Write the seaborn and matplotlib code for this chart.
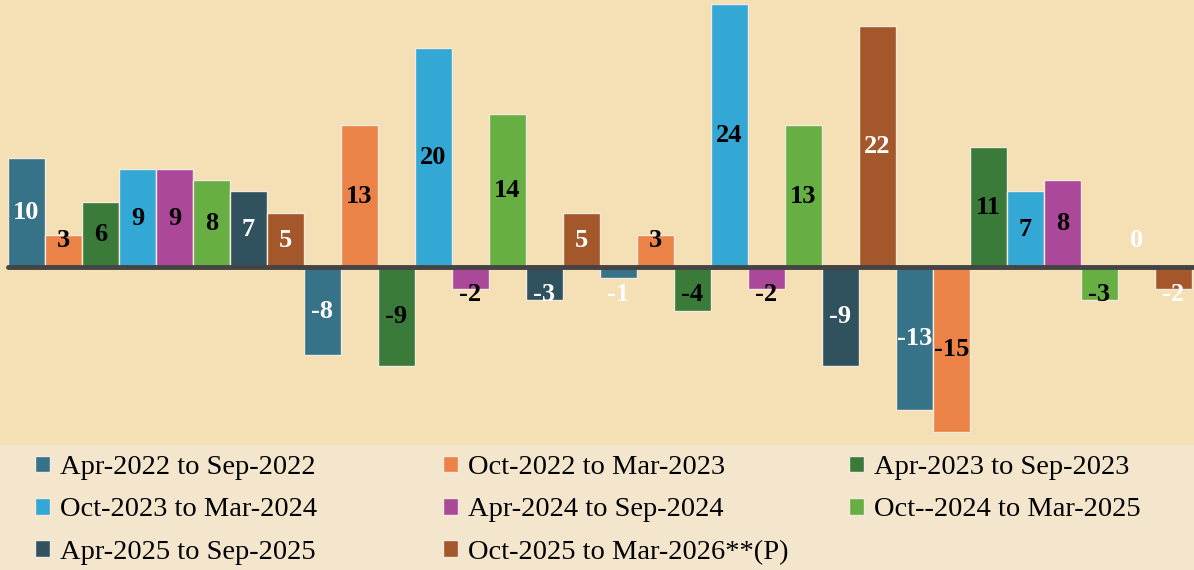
import matplotlib

matplotlib.use("Agg", force=True)
import matplotlib.pyplot as plt
import pandas as pd
import seaborn as sns

# chart data
groups = ["G1", "G2", "G3", "G4"]
series = [
    "Apr-2022 to Sep-2022",
    "Oct-2022 to Mar-2023",
    "Apr-2023 to Sep-2023",
    "Oct-2023 to Mar-2024",
    "Apr-2024 to Sep-2024",
    "Oct--2024 to Mar-2025",
    "Apr-2025 to Sep-2025",
    "Oct-2025 to Mar-2026**(P)",
]
values_g1 = [10, 3, 6, 9, 9, 8, 7, 5]
values_g2 = [-8, 13, -9, 20, -2, 14, -3, 5]
values_g3 = [-1, 3, -4, 24, -2, 13, -9, 22]
values_g4 = [-13, -15, 11, 7, 8, -3, 0, -2]

colors = ["#367388", "#eb8247", "#3a7b3a", "#33a8d5", "#ab4899", "#67ae43", "#30525e", "#a3572a"]
label_colors = ["white", "black", "black", "black", "black", "black", "white", "white"]

BG_TOP = "#f5dfb5"
BG_BOTTOM = "#f3e6cc"


def build_frame() -> pd.DataFrame:
    rows = []
    for g, vals in zip(groups, [values_g1, values_g2, values_g3, values_g4]):
        for s, v in zip(series, vals):
            rows.append({"group": g, "series": s, "value": v})
    return pd.DataFrame(rows)


def main() -> None:
    df = build_frame()
    sns.set_theme(style="white")
    plt.rcParams["font.family"] = ["Liberation Serif", "DejaVu Serif"]

    fig = plt.figure(figsize=(11.94, 5.70), dpi=100, facecolor=BG_BOTTOM)
    ax = fig.add_axes([0, 125 / 570, 1, 445 / 570])
    ax.set_facecolor(BG_TOP)

    sns.barplot(
        data=df, x="group", y="value", hue="series", hue_order=series, order=groups,
        palette=colors, width=1.0, gap=0, dodge=True, edgecolor="#f3eadb", linewidth=1.0,
        saturation=1, ax=ax,
    )
    handles, labels = ax.get_legend_handles_labels()
    ax.get_legend().remove()

    ax.set_xlim(-0.527, 3.507)
    ax.set_ylim(-16.2, 24.4)
    ax.axhline(0, xmin=8 / 1194, xmax=1, color="#444444", lw=3.5, zorder=3)
    ax.set_xticks([])
    ax.set_yticks([])
    ax.set_xlabel("")
    ax.set_ylabel("")
    for sp in ax.spines.values():
        sp.set_visible(False)

    # data labels
    all_vals = [values_g1, values_g2, values_g3, values_g4]
    for i, cont in enumerate(ax.containers):
        for bar, v in zip(cont, [vals[i] for vals in all_vals]):
            x = bar.get_x() + bar.get_width() / 2
            sign = -1 if v < 0 else 1
            y = v / 2 if abs(v) / 2 >= 2.5 else sign * 2.5
            ax.text(x, y, f"{v}", ha="center", va="center", fontsize=19, fontweight="bold",
                    color=label_colors[i], zorder=4)

    # legend: three fixed-width columns, filled row by row
    col_x = [35, 443, 849]
    for c in range(3):
        idx = list(range(c, len(series), 3))
        fig.legend(
            [handles[k] for k in idx], [labels[k] for k in idx],
            loc="upper left", bbox_to_anchor=(col_x[c] / 1194, 1 - 455 / 570),
            ncol=1, frameon=False, fontsize=20.5, labelcolor="black",
            handlelength=0.52, handleheight=0.52, handletextpad=0.35,
            labelspacing=0.61, borderpad=0, borderaxespad=0,
        )

    fig.savefig("out.png", dpi=100, facecolor=BG_BOTTOM)
    plt.close(fig)


if __name__ == "__main__":
    main()
